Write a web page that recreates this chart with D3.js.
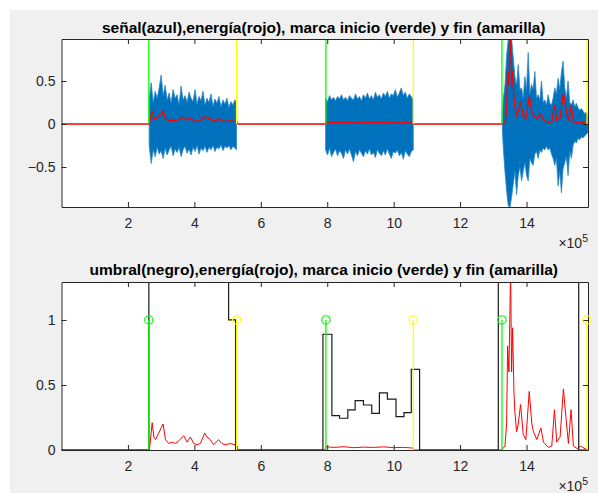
<!DOCTYPE html>
<html><head><meta charset="utf-8">
<script src="https://cdn.jsdelivr.net/npm/d3@7"></script>
<style>body{margin:0;background:#fff}svg{display:block}</style>
</head><body>
<script>
// ---------- DATA (x in units of 10^5 samples) ----------
const xTicks = [2, 4, 6, 8, 10, 12, 14];
const yTicksSup = [-0.5, 0, 0.5];
const yTicksInf = [0, 0.5, 1];
const tituloSup = "señal(azul),energía(rojo), marca inicio (verde) y fin (amarilla)";
const tituloInf = "umbral(negro),energía(rojo), marca inicio (verde) y fin (amarilla)";

const marcasInicio = [2.63, 7.96, 13.26];
const marcasFin = [5.27, 10.59, 15.82];

// signal envelope, segment 1
const senal1X = [2.64,2.70,2.76,2.82,2.88,2.94,3.00,3.06,3.12,3.18, 3.24,3.30,3.36,3.42,3.48,3.54,3.60,3.66,3.72,3.78, 3.84,3.90,3.96,4.02,4.08,4.14,4.20,4.26,4.32,4.38, 4.44,4.50,4.56,4.62,4.68,4.74,4.80,4.86,4.92,4.98, 5.04,5.10,5.16,5.22,5.27];
const senal1Max = [0.30,0.48,0.25,0.38,0.30,0.42,0.57,0.33,0.45,0.28, 0.36,0.24,0.40,0.30,0.34,0.22,0.44,0.28,0.33,0.25, 0.37,0.30,0.26,0.40,0.23,0.32,0.27,0.38,0.22,0.30, 0.25,0.35,0.21,0.29,0.24,0.32,0.20,0.28,0.23,0.30, 0.19,0.26,0.22,0.28,0.25];
const senal1Min = [-0.25,-0.46,-0.30,-0.38,-0.27,-0.35,-0.31,-0.40,-0.28,-0.36, -0.30,-0.26,-0.37,-0.29,-0.33,-0.27,-0.38,-0.30,-0.26,-0.34, -0.29,-0.36,-0.27,-0.32,-0.25,-0.35,-0.28,-0.31,-0.26,-0.33, -0.27,-0.30,-0.25,-0.32,-0.27,-0.29,-0.24,-0.31,-0.26,-0.28, -0.25,-0.30,-0.26,-0.28,-0.30];
// segment 2
const senal2X = [7.95,8.01,8.07,8.13,8.19,8.25,8.31,8.37,8.43,8.49, 8.55,8.61,8.67,8.73,8.79,8.85,8.91,8.97,9.03,9.09, 9.15,9.21,9.27,9.33,9.39,9.45,9.51,9.57,9.63,9.69, 9.75,9.81,9.87,9.93,9.99,10.05,10.11,10.17,10.23,10.29, 10.35,10.41,10.47,10.53,10.59];
const senal2Max = [0.30,0.26,0.33,0.28,0.31,0.27,0.32,0.29,0.34,0.28, 0.31,0.27,0.33,0.30,0.28,0.35,0.29,0.32,0.27,0.34, 0.30,0.36,0.29,0.33,0.28,0.37,0.31,0.34,0.29,0.36, 0.32,0.38,0.30,0.35,0.33,0.40,0.31,0.36,0.42,0.33, 0.37,0.30,0.35,0.32,0.28];
const senal2Min = [-0.30,-0.36,-0.28,-0.38,-0.33,-0.29,-0.37,-0.31,-0.34,-0.40, -0.30,-0.35,-0.29,-0.36,-0.44,-0.32,-0.37,-0.30,-0.34,-0.38, -0.31,-0.35,-0.29,-0.36,-0.33,-0.39,-0.30,-0.34,-0.37,-0.31, -0.36,-0.29,-0.35,-0.40,-0.32,-0.34,-0.30,-0.37,-0.33,-0.41, -0.31,-0.35,-0.38,-0.32,-0.30];
// segment 3
const senal3X = [13.27,13.30,13.35,13.40,13.45,13.50,13.55,13.60,13.65,13.70, 13.75,13.80,13.85,13.90,13.95,14.00,14.05,14.10,14.15,14.20, 14.25,14.30,14.35,14.40,14.45,14.50,14.55,14.60,14.65,14.70, 14.75,14.80,14.85,14.90,14.95,15.00,15.05,15.10,15.15,15.20, 15.25,15.30,15.35,15.40,15.45,15.50,15.55,15.60,15.65,15.70, 15.75,15.80,15.85];
const senal3Max = [0.05,0.30,0.45,0.80,0.99,0.99,0.99,0.77,0.55,0.45, 0.69,0.40,0.42,0.30,0.55,0.40,0.83,0.35,0.46,0.40, 0.61,0.30,0.34,0.28,0.50,0.25,0.28,0.22,0.34,0.24, 0.22,0.30,0.42,0.35,0.53,0.40,0.60,0.73,0.42,0.30, 0.50,0.25,0.22,0.28,0.20,0.24,0.19,0.16,0.18,0.15, 0.12,0.14,0.10];
const senal3Min = [-0.05,-0.28,-0.55,-0.78,-0.95,-0.97,-0.85,-0.70,-0.55,-0.82, -0.60,-0.50,-0.66,-0.55,-0.45,-0.60,-0.66,-0.40,-0.45,-0.48, -0.35,-0.32,-0.40,-0.30,-0.33,-0.28,-0.30,-0.26,-0.30,-0.28, -0.35,-0.40,-0.48,-0.40,-0.72,-0.55,-0.80,-0.52,-0.45,-0.38, -0.60,-0.32,-0.40,-0.25,-0.20,-0.22,-0.17,-0.18,-0.15,-0.16, -0.14,-0.12,-0.10];

// energy (red)
const energiaX = [0, 2.64,
  2.66,2.73,2.78,2.83,2.93,3.00,3.06,3.13,3.23,3.33, 3.43,3.53,3.68,3.78,3.88,3.98,4.08,4.18,4.31,4.38, 4.48,4.58,4.73,4.83,4.93,5.08,5.23,5.29, 5.31,
  7.93, 7.96,8.2,8.5,8.8,9.1,9.4,9.7,10.0,10.3,10.58, 10.61,
  13.25,13.35,13.40,13.43,13.47,13.52,13.55,13.58,13.62,13.65, 13.70,13.75,13.82,13.90,13.98,14.08,14.16,14.21,14.31,14.43, 14.51,14.66,14.76,14.84,14.91,15.01,15.11,15.19,15.26,15.34, 15.41,15.53,15.63,15.76,15.85];
const energiaInf = [0, 0,
  0.03,0.21,0.10,0.08,0.13,0.17,0.20,0.08,0.05,0.06, 0.05,0.07,0.11,0.06,0.10,0.05,0.04,0.05,0.13,0.10, 0.08,0.04,0.08,0.05,0.04,0.05,0.04,0.03, 0,
  0, 0.025,0.02,0.025,0.018,0.022,0.02,0.024,0.018,0.02,0.015, 0,
  0,0.03,0.20,0.80,0.60,1.40,0.60,0.94,0.45,0.29, 0.14,0.20,0.35,0.12,0.08,0.45,0.20,0.14,0.08,0.17, 0.06,0.02,0.03,0.31,0.06,0.10,0.47,0.24,0.05,0.31, 0.03,0.01,0.03,0.01,0];
const energiaSup = [0, 0,
  0.03,0.155,0.07,0.06,0.09,0.12,0.155,0.06,0.04,0.045, 0.04,0.05,0.08,0.045,0.07,0.04,0.03,0.04,0.09,0.07, 0.06,0.03,0.06,0.04,0.03,0.035,0.03,0.02, 0,
  0, 0.02,0.015,0.02,0.013,0.017,0.015,0.018,0.013,0.015,0.012, 0,
  0,0.02,0.15,0.62,0.45,1.20,0.42,0.62,0.30,0.20, 0.10,0.15,0.25,0.09,0.06,0.32,0.14,0.10,0.06,0.12, 0.045,0.02,0.025,0.22,0.045,0.07,0.36,0.17,0.04,0.22, 0.025,0.01,0.02,0.01,0];

// threshold (black step line)
const umbralX = [0, 2.63, 5.03, 5.24, 7.87, 8.14, 8.37, 8.62, 8.84, 9.09, 9.34, 9.57, 9.81, 10.07, 10.31, 10.53, 10.78, 13.15, 15.57, 15.85];
const umbralY = [0, 1.5, 1.0, 0, 0.89, 0.264, 0.244, 0.308, 0.38, 0.346, 0.282, 0.44, 0.392, 0.256, 0.287, 0.62, 0, 1.5, 0, 0];

// ---------- DRAWING ----------
const W = 598, H = 493;
const FONT = "'Liberation Sans', Arial, Helvetica, sans-serif";
const TXT = "#262626";
const TICK_FS = 14, TITLE_FS = 15.5;
const svg = d3.select("body").append("svg").attr("width", W).attr("height", H);
svg.append("rect").attr("x", 10).attr("y", 10).attr("width", W - 10).attr("height", H - 10).attr("fill", "#f0f0f0");

const L = 61.5, R = 588;
const x = d3.scaleLinear().domain([0, 15.85]).range([L, R]);
const ySup = d3.scaleLinear().domain([-0.965, 0.988]).range([207, 39]);
const yInf = d3.scaleLinear().domain([0, 1.292]).range([450, 282]);

function axes(y, top, bottom, yTicks, id, title, titleY) {
  const g = svg.append("g");
  g.append("rect").attr("x", L).attr("y", top).attr("width", R - L).attr("height", bottom - top).attr("fill", "#fff");
  svg.append("clipPath").attr("id", id).append("rect")
    .attr("x", L).attr("y", top).attr("width", R - L).attr("height", bottom - top);
  svg.append("text").attr("x", (L + R) / 2 - 1).attr("y", titleY).attr("text-anchor", "middle")
    .attr("font-family", FONT).attr("font-weight", "bold").attr("font-size", TITLE_FS).attr("fill", "#000").text(title);
  return g;
}

function frame(y, top, bottom, yTicks) {
  const g = svg.append("g");
  const fmt = d => d3.format("")(d);
  g.append("g").attr("transform", `translate(0,${bottom})`)
    .call(d3.axisBottom(x).tickValues(xTicks).tickSize(-5).tickSizeOuter(0).tickPadding(11).tickFormat(fmt));
  g.append("g").attr("transform", `translate(0,${top})`)
    .call(d3.axisTop(x).tickValues(xTicks).tickSize(-5).tickSizeOuter(0).tickFormat(""));
  g.append("g").attr("transform", `translate(${L},0)`)
    .call(d3.axisLeft(y).tickValues(yTicks).tickSize(-5).tickSizeOuter(0).tickPadding(6).tickFormat(fmt));
  g.append("g").attr("transform", `translate(${R},0)`)
    .call(d3.axisRight(y).tickValues(yTicks).tickSize(-5).tickSizeOuter(0).tickFormat(""));
  g.selectAll("path.domain").attr("stroke", TXT).attr("stroke-width", 1);
  g.selectAll(".tick line").attr("stroke", TXT);
  g.selectAll("text").attr("font-family", FONT).attr("font-size", TICK_FS).attr("fill", TXT);
  const t = svg.append("text").attr("x", R).attr("y", bottom + 41).attr("text-anchor", "end")
    .attr("font-family", FONT).attr("font-size", TICK_FS).attr("fill", TXT);
  t.append("tspan").text("×10");
  t.append("tspan").attr("dy", -6).attr("font-size", 10.5).text("5");
}

// ----- top panel -----
axes(ySup, 39, 207, yTicksSup, "clipSup", tituloSup, 33);
const gS = svg.append("g").attr("clip-path", "url(#clipSup)");
const segs = [[senal1X, senal1Max, senal1Min], [senal2X, senal2Max, senal2Min], [senal3X, senal3Max, senal3Min]];
const area = d3.area().x(d => x(d[0])).y0(d => ySup(d[2])).y1(d => ySup(d[1]));
segs.forEach(([xs, hi, lo]) => {
  const pts = xs.map((v, i) => [v, hi[i], lo[i]]);
  gS.append("path").attr("d", area(pts)).attr("fill", "#0072BD").attr("stroke", "#2a86c8").attr("stroke-width", 0.8);
});
const lineSup = d3.line().x((d, i) => x(energiaX[i])).y(d => ySup(d));
gS.append("path").attr("d", lineSup(energiaSup)).attr("fill", "none").attr("stroke", "#ff0000").attr("stroke-width", 1.3);
marcasInicio.forEach(v => gS.append("line").attr("x1", x(v)).attr("x2", x(v)).attr("y1", ySup(0)).attr("y2", ySup(1))
  .attr("stroke", "#00ff00").attr("stroke-width", 1.3));
marcasFin.forEach(v => gS.append("line").attr("x1", x(v)).attr("x2", x(v)).attr("y1", ySup(0)).attr("y2", ySup(1))
  .attr("stroke", "#ffff00").attr("stroke-width", 1.3));
frame(ySup, 39, 207, yTicksSup);

// ----- bottom panel -----
axes(yInf, 282, 450, yTicksInf, "clipInf", tituloInf, 275);
const gI = svg.append("g").attr("clip-path", "url(#clipInf)");
const lineInf = d3.line().x((d, i) => x(energiaX[i])).y(d => yInf(d));
gI.append("path").attr("d", lineInf(energiaInf)).attr("fill", "none").attr("stroke", "#ff0000").attr("stroke-width", 1);
const stepLine = d3.line().curve(d3.curveStepAfter).x((d, i) => x(umbralX[i])).y(d => yInf(d));
gI.append("path").attr("d", stepLine(umbralY)).attr("fill", "none").attr("stroke", "#1a1a1a").attr("stroke-width", 1.2);
marcasInicio.forEach(v => gI.append("line").attr("x1", x(v)).attr("x2", x(v)).attr("y1", yInf(0)).attr("y2", yInf(1))
  .attr("stroke", "#00ff00").attr("stroke-width", 1.3));
marcasFin.forEach(v => gI.append("line").attr("x1", x(v)).attr("x2", x(v)).attr("y1", yInf(0)).attr("y2", yInf(1))
  .attr("stroke", "#ffff00").attr("stroke-width", 1.3));
frame(yInf, 282, 450, yTicksInf);
const gM = svg.append("g");
marcasInicio.forEach(v => gM.append("circle").attr("cx", x(v)).attr("cy", yInf(1)).attr("r", 4.2)
  .attr("fill", "none").attr("stroke", "#00ff00").attr("stroke-width", 1.2));
marcasFin.forEach(v => gM.append("circle").attr("cx", x(v)).attr("cy", yInf(1)).attr("r", 4.2)
  .attr("fill", "none").attr("stroke", "#ffff00").attr("stroke-width", 1.2));
</script>
</body></html>
